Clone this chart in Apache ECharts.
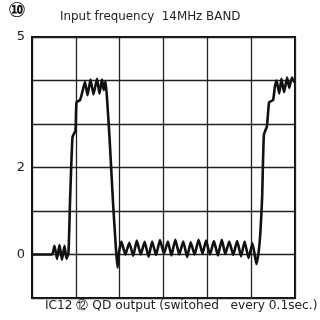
<!DOCTYPE html>
<html>
<head>
<meta charset="utf-8">
<script src="https://cdn.jsdelivr.net/npm/echarts@6/dist/echarts.min.js"></script>
<style>html,body{margin:0;padding:0;background:#fff}#c{width:320px;height:320px}</style>
</head>
<body>
<div id="c"></div>
<script>
// time in screen divisions (0..6)
var timeDiv = [0, 0.456, 0.513, 0.570, 0.627, 0.684, 0.742, 0.787, 0.833, 0.867, 0.924, 0.992, 1.015, 1.095, 1.152,
  1.209, 1.266, 1.335, 1.403, 1.483, 1.540, 1.597, 1.638, 1.677, 1.711, 1.768, 1.848, 1.917, 1.951, 1.985,
  2.04, 2.13, 2.22, 2.31, 2.39, 2.48, 2.57, 2.66, 2.74, 2.83, 2.92, 3.01, 3.10, 3.18, 3.27, 3.36, 3.45, 3.54,
  3.62, 3.71, 3.80, 3.89, 3.97, 4.06, 4.15, 4.24, 4.33, 4.41, 4.50, 4.59, 4.68, 4.77, 4.85, 4.94, 5.03, 5.12,
  5.17, 5.21, 5.25, 5.29, 5.36, 5.41, 5.50, 5.54, 5.58, 5.64, 5.69, 5.75, 5.82, 5.87, 5.93, 5.99];
// output level (V)
var outputV = [0, 0, 0.2, -0.1, 0.22, -0.12, 0.2, -0.1, 0.05, 1.2, 2.7, 2.85, 3.5, 3.55, 3.75,
  3.97, 3.66, 4.02, 3.68, 4.04, 3.7, 4.02, 3.78, 3.98, 3.6, 2.7, 1.2, 0.1, -0.3, 0.05,
  0.3, 0.0, 0.27, -0.03, 0.32, 0.0, 0.29, -0.05, 0.3, -0.01, 0.33, 0.02, 0.3, -0.02, 0.34, 0.0, 0.3, -0.06,
  0.28, 0.0, 0.34, 0.02, 0.32, 0.0, 0.31, -0.02, 0.34, 0.01, 0.3, -0.01, 0.31, -0.04, 0.3, -0.08, 0.26, -0.22,
  0.05, 0.5, 1.3, 2.75, 2.95, 3.5, 3.55, 3.85, 4.0, 3.7, 4.04, 3.73, 4.07, 3.83, 4.07, 3.95];
var yTickLabels = ['5', '2', '0'];
var titleText = 'Input frequency  14MHz BAND';
var footText = 'IC12 \u246B QD output (switohed   every 0.1sec.)';

var pts = timeDiv.map(function (t, i) { return [t, outputV[i]]; });
var chart = echarts.init(document.getElementById('c'), null, {renderer: 'canvas'});
chart.setOption({
  backgroundColor: '#fff',
  animation: false,
  grid: {left: 32, right: 25, top: 37, bottom: 22, show: true, borderColor: '#111', borderWidth: 2},
  xAxis: {type: 'value', min: 0, max: 6, interval: 1,
    axisLine: {show: false}, axisTick: {show: false}, axisLabel: {show: false},
    splitLine: {show: true, lineStyle: {color: '#222', width: 1.3}}},
  yAxis: {type: 'value', min: -1, max: 5, interval: 1,
    axisLine: {show: true, lineStyle: {color: '#111', width: 2}}, axisTick: {show: false},
    axisLabel: {margin: 7, color: '#222', fontSize: 13, fontFamily: 'DejaVu Sans',
      formatter: function (v) { return yTickLabels.indexOf(String(v)) >= 0 ? String(v) : ''; }},
    splitLine: {show: true, lineStyle: {color: '#222', width: 1.3}}},
  graphic: [
    {type: 'text', left: 8, top: 1, style: {text: '\u2469', fontSize: 21, fontWeight: 'bold', fontFamily: 'DejaVu Sans', fill: '#111'}},
    {type: 'text', left: 60, top: 11, style: {text: titleText, fontSize: 11.9, fontFamily: 'DejaVu Sans', fill: '#222'}},
    {type: 'text', left: 45, top: 300, style: {text: footText, fontSize: 12.2, fontFamily: 'DejaVu Sans', fill: '#222'}}
  ],
  series: [{type: 'line', data: pts, showSymbol: false, smooth: 0.15,
    lineStyle: {color: '#111', width: 2.6}}]
});
</script>
</body>
</html>
